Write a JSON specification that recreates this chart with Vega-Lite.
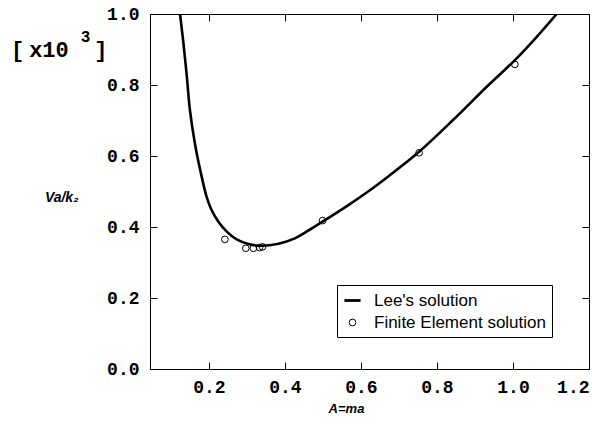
{
  "$schema": "https://vega.github.io/schema/vega-lite/v6.json",
  "width": 439,
  "height": 355,
  "autosize": {"type": "none"},
  "padding": {"left": 150, "top": 14, "right": 3, "bottom": 64},
  "background": "white",
  "config": {
    "view": {"stroke": "black", "strokeWidth": 1},
    "axis": {"grid": false, "domain": true, "domainColor": "black", "domainWidth": 1, "ticks": true, "tickColor": "black", "tickWidth": 1, "tickSize": -7, "zindex": 1}
  },
  "datasets": {
    "lee": [
      {"a": 0.124, "v": 1.0}, {"a": 0.133, "v": 0.917}, {"a": 0.142, "v": 0.823},
      {"a": 0.15, "v": 0.73}, {"a": 0.163, "v": 0.636}, {"a": 0.177, "v": 0.561},
      {"a": 0.194, "v": 0.485}, {"a": 0.207, "v": 0.448}, {"a": 0.225, "v": 0.415},
      {"a": 0.247, "v": 0.387}, {"a": 0.273, "v": 0.365}, {"a": 0.304, "v": 0.352},
      {"a": 0.339, "v": 0.347}, {"a": 0.383, "v": 0.353}, {"a": 0.426, "v": 0.368},
      {"a": 0.46, "v": 0.389}, {"a": 0.499, "v": 0.415}, {"a": 0.562, "v": 0.458},
      {"a": 0.615, "v": 0.497}, {"a": 0.676, "v": 0.546}, {"a": 0.753, "v": 0.612},
      {"a": 0.843, "v": 0.702}, {"a": 0.931, "v": 0.795}, {"a": 1.005, "v": 0.87},
      {"a": 1.062, "v": 0.935}, {"a": 1.115, "v": 1.0}
    ],
    "fe": [
      {"a": 0.242, "v": 0.365, "s": "Finite Element solution"},
      {"a": 0.297, "v": 0.34, "s": "Finite Element solution"},
      {"a": 0.317, "v": 0.34, "s": "Finite Element solution"},
      {"a": 0.333, "v": 0.342, "s": "Finite Element solution"},
      {"a": 0.341, "v": 0.344, "s": "Finite Element solution"},
      {"a": 0.499, "v": 0.418, "s": "Finite Element solution"},
      {"a": 0.753, "v": 0.609, "s": "Finite Element solution"},
      {"a": 1.005, "v": 0.858, "s": "Finite Element solution"}
    ]
  },
  "resolve": {"axis": {"x": "independent", "y": "independent"}},
  "layer": [
    {
      "data": {"name": "lee"},
      "mark": {"type": "line", "color": "black", "strokeWidth": 2.6, "clip": true, "interpolate": "catmull-rom"},
      "encoding": {
        "x": {
          "field": "a", "type": "quantitative",
          "scale": {"domain": [0.045, 1.2], "nice": false, "zero": false},
          "axis": {
            "orient": "bottom", "values": [0.2, 0.4, 0.6, 0.8, 1.0, 1.2], "format": ".1f", "zindex": 1,
            "domain": true, "domainColor": "black", "domainWidth": 1,
            "ticks": true, "tickColor": "black", "tickSize": -7, "tickWidth": 1,
            "labelFont": "Liberation Mono", "labelFontWeight": "bold", "labelFontSize": 18, "labelColor": "black",
            "labelPadding": 16, "labelFlush": true,
            "title": "A=ma", "titleFont": "Liberation Sans", "titleFontStyle": "italic", "titleColor": "black",
            "titleFontWeight": "bold", "titleFontSize": 13, "titleX": 196, "titleY": 33,
            "titleBaseline": "top", "titleAnchor": "start", "titleAlign": "center"
          }
        },
        "y": {
          "field": "v", "type": "quantitative",
          "scale": {"domain": [0, 1], "nice": false, "zero": true},
          "axis": {
            "orient": "left", "values": [0, 0.2, 0.4, 0.6, 0.8, 1.0], "format": ".1f", "zindex": 1,
            "domain": true, "domainColor": "black", "domainWidth": 1,
            "ticks": true, "tickColor": "black", "tickSize": -7, "tickWidth": 1,
            "labelFont": "Liberation Mono", "labelFontWeight": "bold", "labelFontSize": 18, "labelColor": "black",
            "labelPadding": 18, "labelFlush": false,
            "title": "Va/k₂", "titleFont": "Liberation Sans", "titleFontStyle": "italic", "titleColor": "black",
            "titleFontWeight": "bold", "titleFontSize": 14, "titleAngle": 0,
            "titleX": -72, "titleY": 183, "titleAlign": "right", "titleBaseline": "middle"
          }
        }
      }
    },
    {
      "data": {"name": "fe"},
      "mark": {"type": "point", "filled": false, "color": "black", "opacity": 1},
      "encoding": {
        "x": {
          "field": "a", "type": "quantitative",
          "axis": {"orient": "top", "labels": false, "title": null, "values": [0.2, 0.4, 0.6, 0.8, 1.0, 1.2], "zindex": 1,
            "domain": true, "domainColor": "black", "domainWidth": 1,
            "ticks": true, "tickColor": "black", "tickSize": -7, "tickWidth": 1}
        },
        "y": {
          "field": "v", "type": "quantitative",
          "axis": {"orient": "right", "labels": false, "title": null, "values": [0, 0.2, 0.4, 0.6, 0.8, 1.0], "zindex": 1,
            "domain": true, "domainColor": "black", "domainWidth": 1,
            "ticks": true, "tickColor": "black", "tickSize": -7, "tickWidth": 1}
        },
        "shape": {
          "field": "s", "type": "nominal",
          "scale": {"domain": ["Lee's solution", "Finite Element solution"], "range": ["M-1,0L1,0", "circle"]},
          "legend": {
            "orient": "none", "legendX": 187, "legendY": 271, "title": null,
            "strokeColor": "black", "fillColor": "white", "padding": 6, "rowPadding": 4,
            "labelFont": "Liberation Sans", "labelFontSize": 17, "labelColor": "black", "labelLimit": 400,
            "labelOffset": 12, "symbolStrokeColor": "black"
          }
        },
        "size": {
          "field": "s", "type": "nominal",
          "scale": {"domain": ["Lee's solution", "Finite Element solution"], "range": [260, 45]},
          "legend": {
            "orient": "none", "legendX": 187, "legendY": 271, "title": null,
            "strokeColor": "black", "fillColor": "white", "padding": 6, "rowPadding": 4,
            "labelFont": "Liberation Sans", "labelFontSize": 17, "labelColor": "black", "labelLimit": 400,
            "labelOffset": 12, "symbolStrokeColor": "black"
          }
        },
        "strokeWidth": {
          "field": "s", "type": "nominal",
          "scale": {"domain": ["Lee's solution", "Finite Element solution"], "range": [2.8, 1]},
          "legend": {
            "orient": "none", "legendX": 187, "legendY": 271, "title": null,
            "strokeColor": "black", "fillColor": "white", "padding": 6, "rowPadding": 4,
            "labelFont": "Liberation Sans", "labelFontSize": 17, "labelColor": "black", "labelLimit": 400,
            "labelOffset": 12, "symbolStrokeColor": "black"
          }
        }
      }
    },
    {
      "data": {"values": [{}]},
      "mark": {"type": "text", "text": "[", "font": "Liberation Mono", "fontWeight": "bold", "fontSize": 22, "align": "left", "baseline": "alphabetic", "color": "black"},
      "encoding": {
        "x": {"datum": -0.321, "type": "quantitative", "axis": null},
        "y": {"datum": 0.879, "type": "quantitative", "axis": null}
      }
    },
    {
      "data": {"values": [{}]},
      "mark": {"type": "text", "text": "x10", "font": "Liberation Mono", "fontWeight": "bold", "fontSize": 22, "align": "left", "baseline": "alphabetic", "color": "black"},
      "encoding": {
        "x": {"datum": -0.273, "type": "quantitative", "axis": null},
        "y": {"datum": 0.879, "type": "quantitative", "axis": null}
      }
    },
    {
      "data": {"values": [{}]},
      "mark": {"type": "text", "text": "3", "font": "Liberation Mono", "fontWeight": "bold", "fontSize": 16, "align": "left", "baseline": "alphabetic", "color": "black"},
      "encoding": {
        "x": {"datum": -0.137, "type": "quantitative", "axis": null},
        "y": {"datum": 0.921, "type": "quantitative", "axis": null}
      }
    },
    {
      "data": {"values": [{}]},
      "mark": {"type": "text", "text": "]", "font": "Liberation Mono", "fontWeight": "bold", "fontSize": 22, "align": "left", "baseline": "alphabetic", "color": "black"},
      "encoding": {
        "x": {"datum": -0.102, "type": "quantitative", "axis": null},
        "y": {"datum": 0.879, "type": "quantitative", "axis": null}
      }
    }
  ]
}
